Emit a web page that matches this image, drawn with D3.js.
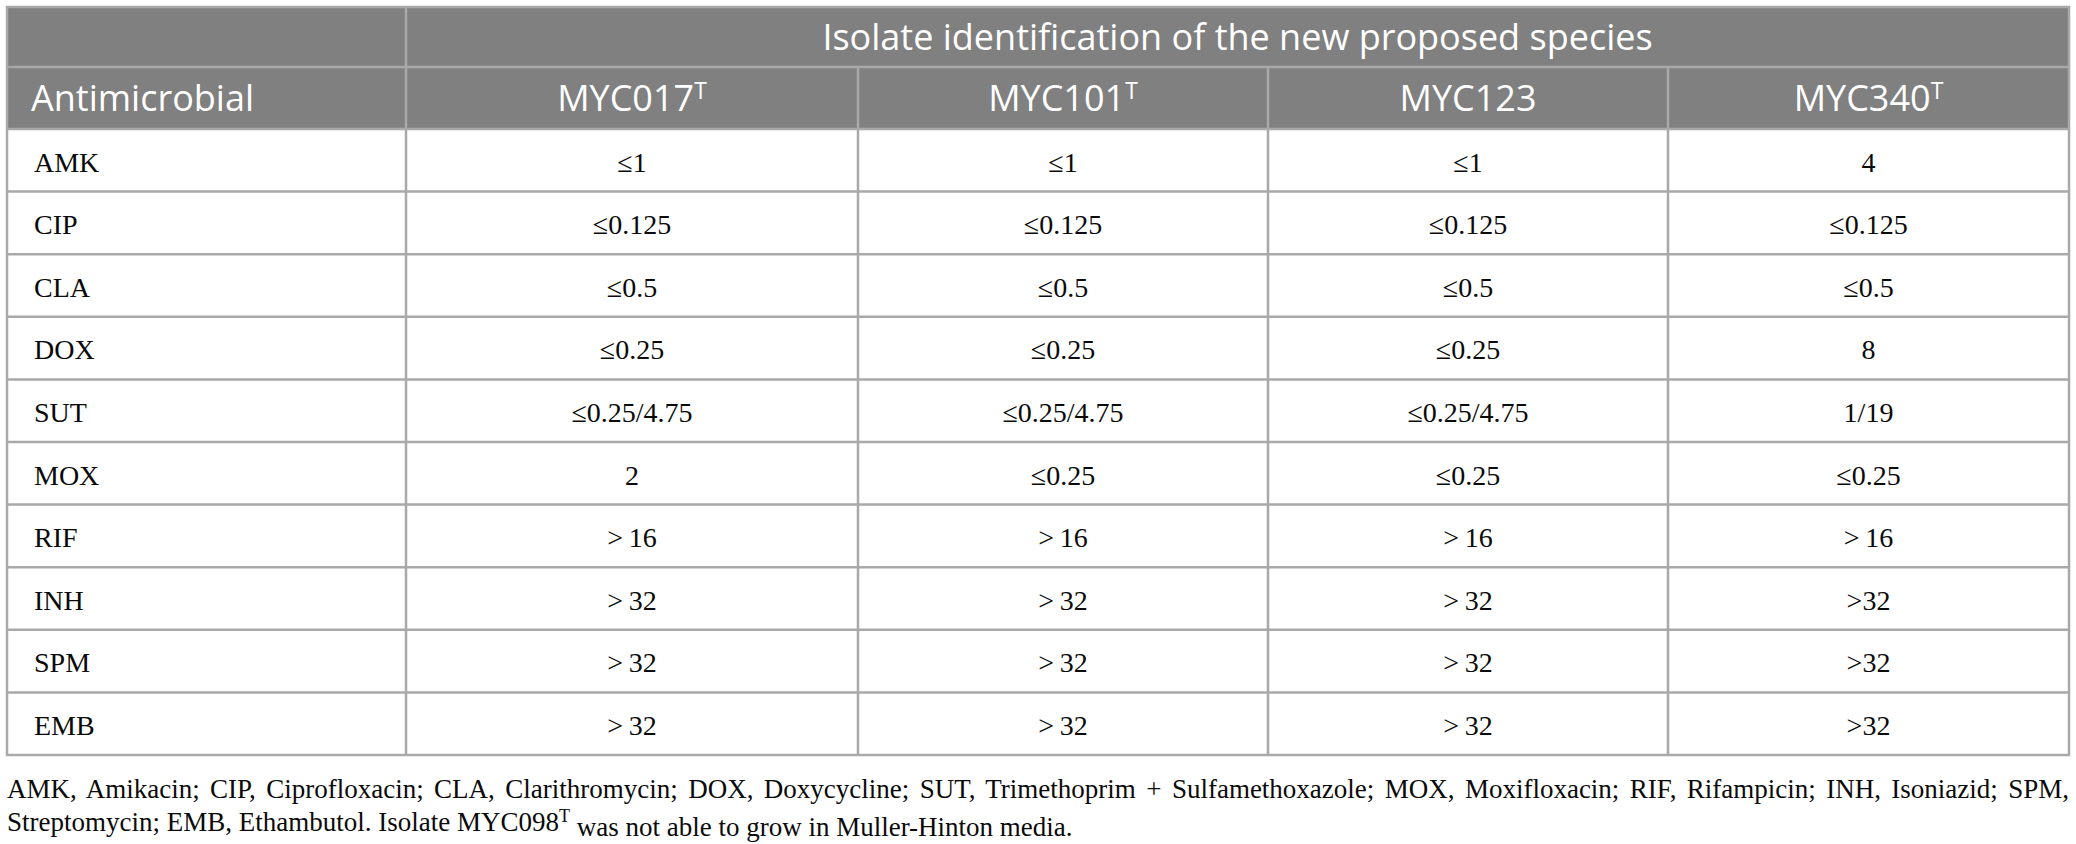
<!DOCTYPE html>
<html>
<head>
<meta charset="utf-8">
<script src="https://cdn.jsdelivr.net/npm/d3@7"></script>
<style>
  body { margin: 0; background: #fff; }
</style>
</head>
<body>
<script>
// table content
const groupTitle = 'Isolate identification of the new proposed species';
const firstHeader = 'Antimicrobial';
const isolates = [
  { name: 'MYC017', sup: 'T' },
  { name: 'MYC101', sup: 'T' },
  { name: 'MYC123', sup: '' },
  { name: 'MYC340', sup: 'T' }
];
const antimicrobials = ['AMK', 'CIP', 'CLA', 'DOX', 'SUT', 'MOX', 'RIF', 'INH', 'SPM', 'EMB'];
const myc017 = ['≤1', '≤0.125', '≤0.5', '≤0.25', '≤0.25/4.75', '2', '>\u200916', '>\u200932', '>\u200932', '>\u200932'];
const myc101 = ['≤1', '≤0.125', '≤0.5', '≤0.25', '≤0.25/4.75', '≤0.25', '>\u200916', '>\u200932', '>\u200932', '>\u200932'];
const myc123 = ['≤1', '≤0.125', '≤0.5', '≤0.25', '≤0.25/4.75', '≤0.25', '>\u200916', '>\u200932', '>\u200932', '>\u200932'];
const myc340 = ['4', '≤0.125', '≤0.5', '8', '1/19', '≤0.25', '>\u200916', '>32', '>32', '>32'];
const footLine1 = 'AMK, Amikacin; CIP, Ciprofloxacin; CLA, Clarithromycin; DOX, Doxycycline; SUT, Trimethoprim + Sulfamethoxazole; MOX, Moxifloxacin; RIF, Rifampicin; INH, Isoniazid; SPM,';
const footLine2a = 'Streptomycin; EMB, Ethambutol. Isolate MYC098';
const footLine2b = ' was not able to grow in Muller-Hinton media.';

const columns = [myc017, myc101, myc123, myc340];

const W = 2076, H = 844;
const x0 = 7, x1 = 2069, y0 = 7;
const head1 = 60, head2 = 62, rowH = 62.6;
// relative column widths
const colW = [399, 452, 410, 400, 401];

const svg = d3.select('body').append('svg')
  .attr('width', W)
  .attr('height', H)
  .attr('viewBox', [0, 0, W, H]);

const edges = [0];
colW.forEach(w => edges.push(edges[edges.length - 1] + w));
const x = d3.scaleLinear().domain([0, edges[edges.length - 1]]).range([x0, x1]);
const colX = i => x(edges[i]);

const bodyTop = y0 + head1 + head2;
const y = d3.scaleBand()
  .domain(antimicrobials)
  .range([bodyTop, bodyTop + rowH * antimicrobials.length]);
const bodyBottom = y.range()[1];

const headFill = '#808080', lineCol = '#a9a9a9', ink = '#0a0a0a';
const sans = '"Open Sans", "Noto Sans", sans-serif';
const serif = '"Liberation Serif", "DejaVu Serif", serif';
const headSize = '36px', bodySize = '28px', footSize = '27px';

// header background
svg.append('rect')
  .attr('x', x0).attr('y', y0)
  .attr('width', x1 - x0).attr('height', head1 + head2)
  .attr('fill', headFill);

// grid lines
const g = svg.append('g').attr('stroke', lineCol).attr('stroke-width', 2.5);
g.append('line')
  .attr('x1', x0).attr('x2', x1)
  .attr('y1', y0 + head1).attr('y2', y0 + head1);
g.append('line')
  .attr('x1', colX(1)).attr('x2', colX(1))
  .attr('y1', y0).attr('y2', bodyBottom);
for (let i = 2; i <= 4; i++) {
  g.append('line')
    .attr('x1', colX(i)).attr('x2', colX(i))
    .attr('y1', y0 + head1).attr('y2', bodyBottom);
}
antimicrobials.forEach(a => {
  g.append('line')
    .attr('x1', x0).attr('x2', x1)
    .attr('y1', y(a)).attr('y2', y(a));
});
// outer border
g.append('rect')
  .attr('x', x0).attr('y', y0)
  .attr('width', x1 - x0).attr('height', bodyBottom - y0)
  .attr('fill', 'none');

// header texts
svg.append('text')
  .attr('x', (colX(1) + colX(5)) / 2)
  .attr('y', y0 + head1 / 2)
  .attr('dy', '0.36em')
  .attr('text-anchor', 'middle')
  .attr('fill', '#fff')
  .style('font-family', sans)
  .style('font-size', headSize)
  .text(groupTitle);

svg.append('text')
  .attr('x', x0 + 24)
  .attr('y', y0 + head1 + head2 / 2)
  .attr('dy', '0.36em')
  .attr('fill', '#fff')
  .style('font-family', sans)
  .style('font-size', headSize)
  .text(firstHeader);

const iso = svg.selectAll('text.iso')
  .data(isolates)
  .enter()
  .append('text')
  .attr('class', 'iso')
  .attr('x', (d, i) => (colX(i + 1) + colX(i + 2)) / 2)
  .attr('y', y0 + head1 + head2 / 2)
  .attr('dy', '0.36em')
  .attr('text-anchor', 'middle')
  .attr('fill', '#fff')
  .style('font-family', sans)
  .style('font-size', headSize);
iso.append('tspan').text(d => d.name);
iso.append('tspan')
  .attr('dy', '-0.5em')
  .style('font-size', '23px')
  .text(d => d.sup);

// body: first column
svg.selectAll('text.abx')
  .data(antimicrobials)
  .enter()
  .append('text')
  .attr('class', 'abx')
  .attr('x', x0 + 27)
  .attr('y', d => y(d) + y.bandwidth() / 2)
  .attr('dy', '0.4em')
  .attr('fill', ink)
  .style('font-family', serif)
  .style('font-size', bodySize)
  .text(d => d);

// body: value columns
columns.forEach((vals, c) => {
  svg.selectAll('text.v' + c)
    .data(vals)
    .enter()
    .append('text')
    .attr('class', 'v' + c)
    .attr('x', (colX(c + 1) + colX(c + 2)) / 2)
    .attr('y', (d, i) => y(antimicrobials[i]) + y.bandwidth() / 2)
    .attr('dy', '0.4em')
    .attr('text-anchor', 'middle')
    .attr('fill', ink)
    .style('font-family', serif)
    .style('font-size', bodySize)
    .text(d => d);
});

// footnote, first line justified with word spacing
const foot = svg.append('g')
  .attr('fill', ink)
  .style('font-family', serif)
  .style('font-size', footSize);
const f1 = foot.append('text')
  .attr('x', x0)
  .attr('y', 798)
  .text(footLine1);
const natural = f1.node().getComputedTextLength();
const gaps = footLine1.split(' ').length - 1;
if (natural < x1 - x0) f1.style('word-spacing', ((x1 - x0 - natural) / gaps) + 'px');

const f2 = foot.append('text')
  .attr('x', x0)
  .attr('y', 831);
f2.append('tspan').text(footLine2a);
f2.append('tspan').attr('dy', '-0.5em').style('font-size', '18px').text('T');
f2.append('tspan').attr('dy', '0.5em').text(footLine2b);
</script>
</body>
</html>
